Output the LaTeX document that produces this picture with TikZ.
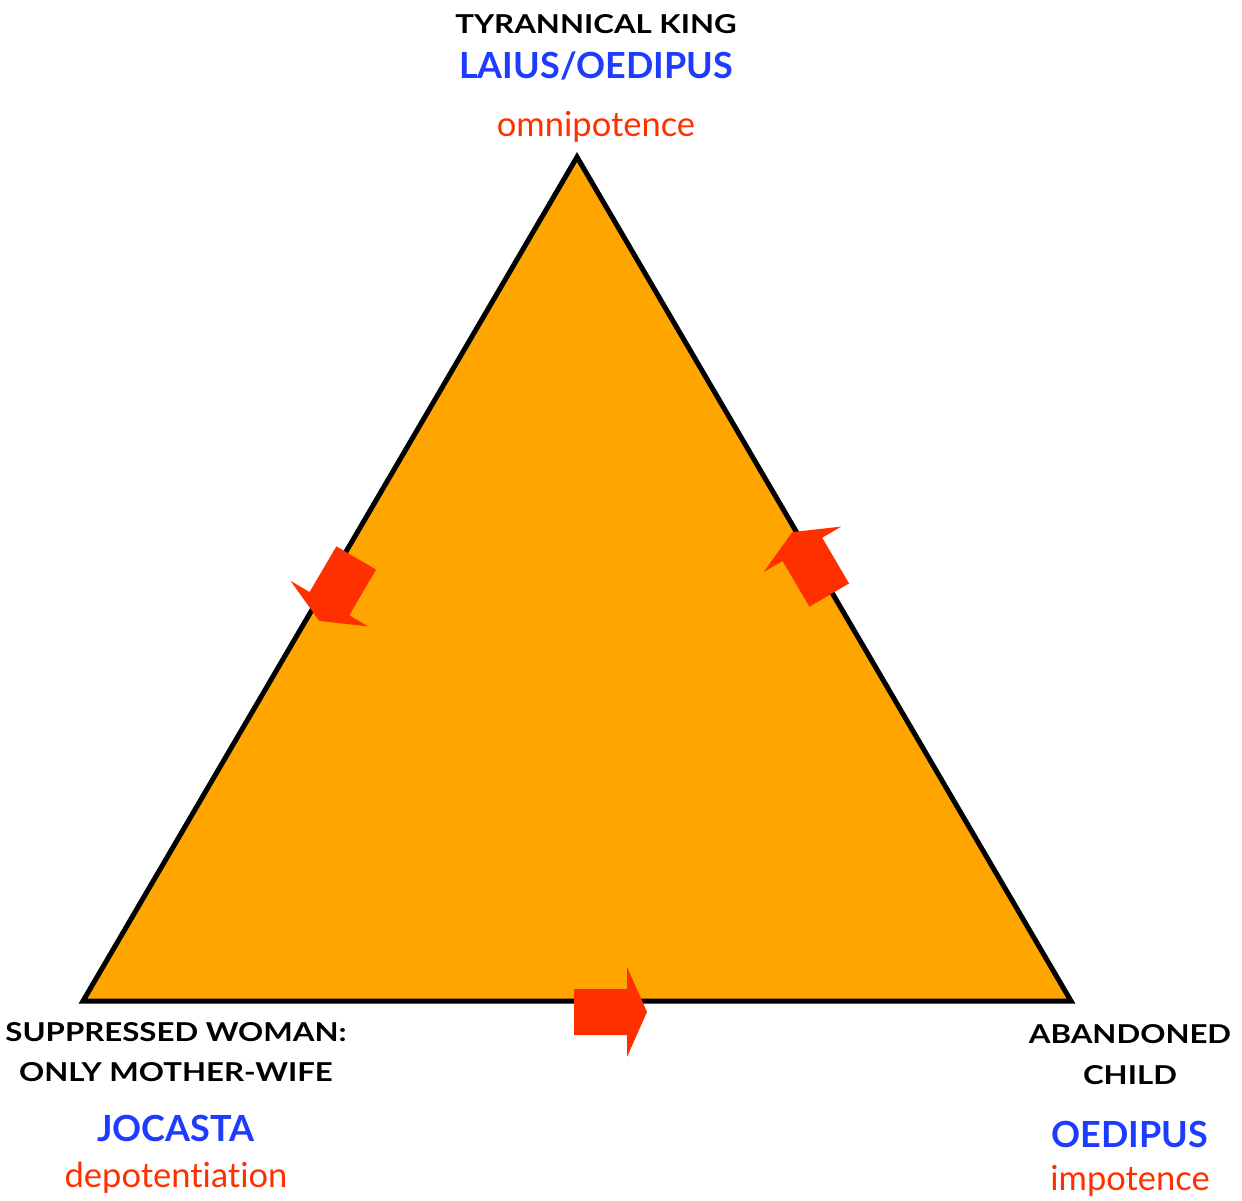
\documentclass[tikz,border=0pt]{standalone}
\usepackage{fontspec}
\setmainfont[Ligatures=NoCommon]{Lato}
\newfontfamily\capsfont[FakeStretch=1.2]{Lato}
\definecolor{triorange}{RGB}{255,165,0}
\definecolor{arrowred}{RGB}{255,48,0}
\definecolor{labelblue}{RGB}{30,60,255}
\tikzset{
  blacklabel/.style={anchor=base, inner sep=0pt, font=\capsfont\fontsize{26}{28}\selectfont\bfseries, text=black},
  bluelabel/.style={anchor=base, inner sep=0pt, font=\fontsize{36}{38}\selectfont\bfseries, text=labelblue},
  redlabel/.style={anchor=base, inner sep=0pt, font=\fontsize{34.5}{36}\selectfont, text=arrowred},
  blockarrow/.pic={\fill[arrowred] (-36,-23) -- (17,-23) -- (17,-45) -- (37,0) -- (17,45) -- (17,23) -- (-36,23) -- cycle;}
}
\begin{document}
\begin{tikzpicture}[x=1pt,y=-1pt]
\useasboundingbox (0,0) rectangle (1242,1200);
\coordinate (apex) at (577,157);
\coordinate (bl) at (83,1001);
\coordinate (br) at (1071,1001);
\draw[line width=5pt, fill=triorange, line join=miter] (apex) -- (bl) -- (br) -- cycle;
\pic[rotate=239.6] (arrowleft) at (338,589) {blockarrow};
\pic[rotate=120.4] (arrowright) at (811,564) {blockarrow};
\pic (arrowbottom) at (610,1012) {blockarrow};
% top labels
\node[blacklabel] (kingtitle) at (596,33) {TYRANNICAL KING};
\node[bluelabel] (kingname) at (596,78) {LAIUS/OEDIPUS};
\node[redlabel] (kingtrait) at (596,136) {omnipotence};
% bottom-left labels
\node[blacklabel] (womantitle) at (176,1041) {SUPPRESSED WOMAN:};
\node[blacklabel] (womantitleb) at (176,1081) {ONLY MOTHER-WIFE};
\node[bluelabel] (womanname) at (176,1141) {JOCASTA};
\node[redlabel] (womantrait) at (176,1187) {depotentiation};
% bottom-right labels
\node[blacklabel] (childtitle) at (1130,1043) {ABANDONED};
\node[blacklabel] (childtitleb) at (1130,1084) {CHILD};
\node[bluelabel] (childname) at (1130,1147) {OEDIPUS};
\node[redlabel] (childtrait) at (1130,1190) {impotence};
\end{tikzpicture}
\end{document}
